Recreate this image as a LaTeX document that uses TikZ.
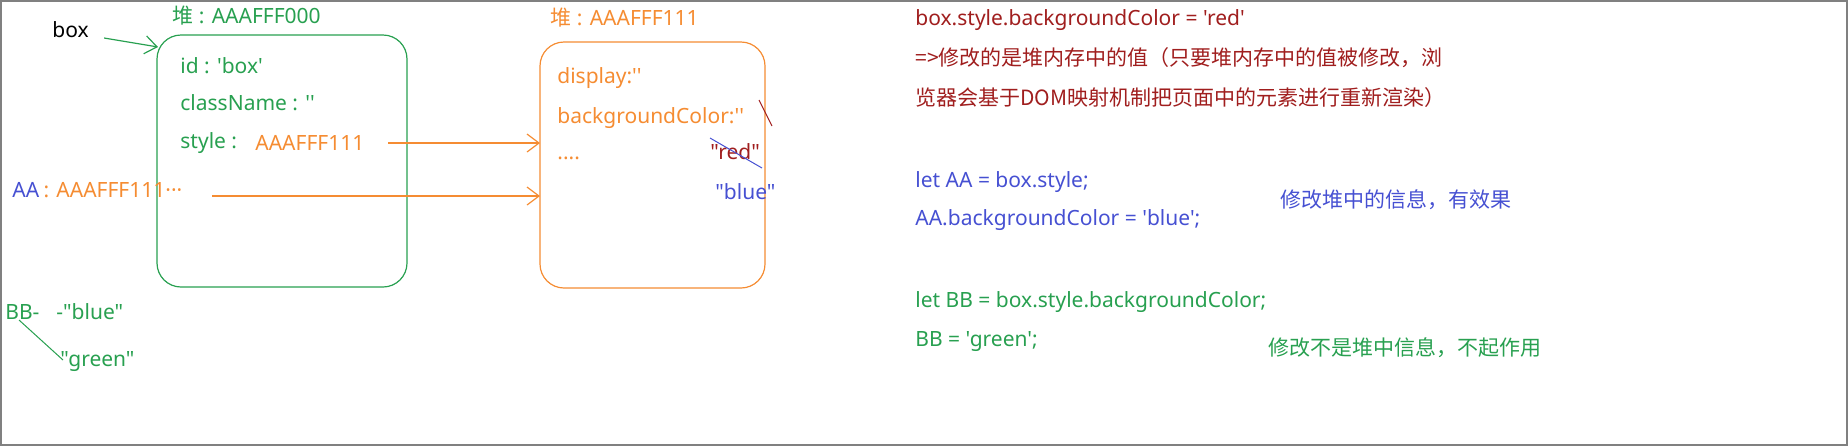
\documentclass[tikz,border=0pt]{standalone}
\usepackage{fontspec}
\newfontfamily\nq{Noto Sans}
\newfontfamily\cjk{Noto Sans CJK SC}
\usetikzlibrary{arrows.meta}
\definecolor{gr}{RGB}{40,160,80}
\definecolor{og}{RGB}{245,140,50}
\definecolor{bl}{RGB}{70,80,210}
\definecolor{dr}{RGB}{160,30,30}
\begin{document}
\begin{tikzpicture}[x=0.5pt,y=-0.5pt,
  t/.style={anchor=west,inner sep=0pt,font=\nq\fontsize{10.5}{13}\selectfont},
  arr/.style={-{Straight Barb[length=6pt,width=9pt]},line width=0.6pt}]
\useasboundingbox (0,0) rectangle (1848,446);
\draw[gray,line width=1.2pt] (1,1) rectangle (1847,445);
\draw[gr,rounded corners=12pt,line width=0.6pt] (157,35) rectangle (407,287);
\draw[og,rounded corners=12pt,line width=0.6pt] (540,42) rectangle (765,288);
\node[t,gr] (h1) at (172,16) {{\cjk 堆} : AAAFFF000};
\node[t,og] (h2) at (550,18) {{\cjk 堆} : AAAFFF111};
\node[t] (box) at (52,30) {box};
\coordinate (bt) at (158,47);
\draw[arr,gr] (box.east)++(15,8) -- (bt);
\node[t,gr] (id) at (180,66) {id : 'box'};
\node[t,gr] (cn) at (180,103) {className : ''};
\node[t,gr] (st) at (180,143) {style :};
\node[t,og] (sv) at (255,143) {AAAFFF111};
\coordinate (s1) at (388,143); \coordinate (s2) at (540,143);
\draw[arr,og] (s1) -- (s2);
\node[t,bl] (aa) at (12,190) {AA};
\node[t,og] (av) at (aa.east) {\,: AAAFFF111···};
\coordinate (a1) at (212,196); \coordinate (a2) at (540,196);
\draw[arr,og] (a1) -- (a2);
\node[t,og] (dp) at (557,78) {display:''};
\node[t,og] (bc) at (557,118) {backgroundColor:''};
\node[t,og] (dt) at (557,158) {....};
\node[t,dr] (red) at (710,152) {"red"};
\draw[dr,line width=0.5pt] (759,100) -- (772,126);
\draw[bl,line width=0.5pt] (710,138) -- (762,168);
\node[t,bl] (blue) at (715,192) {"blue"};
\node[t,gr] (bb) at (5,312) {BB-};
\node[t,gr] (bbv) at (56,312) {-"blue"};
\node[t,gr] (gn) at (60,362) {"green"};
\draw[gr,line width=0.5pt] (19,320) -- (63,360);
\node[t,dr] (r1) at (915,20) {box.style.backgroundColor = 'red'};
\node[t,dr] (r2) at (915,58) {\cjk =>修改的是堆内存中的值（只要堆内存中的值被修改，浏};
\node[t,dr] (r3) at (915,98) {\cjk 览器会基于DOM映射机制把页面中的元素进行重新渲染）};
\node[t,bl] (b1) at (915,182) {let AA = box.style;};
\node[t,bl] (b2) at (915,220) {AA.backgroundColor = 'blue';};
\node[t,bl] (b3) at (1280,200) {\cjk 修改堆中的信息，有效果};
\node[t,gr] (g1) at (915,302) {let BB = box.style.backgroundColor;};
\node[t,gr] (g2) at (915,342) {BB = 'green';};
\node[t,gr] (g3) at (1268,348) {\cjk 修改不是堆中信息，不起作用};
\end{tikzpicture}
\end{document}
